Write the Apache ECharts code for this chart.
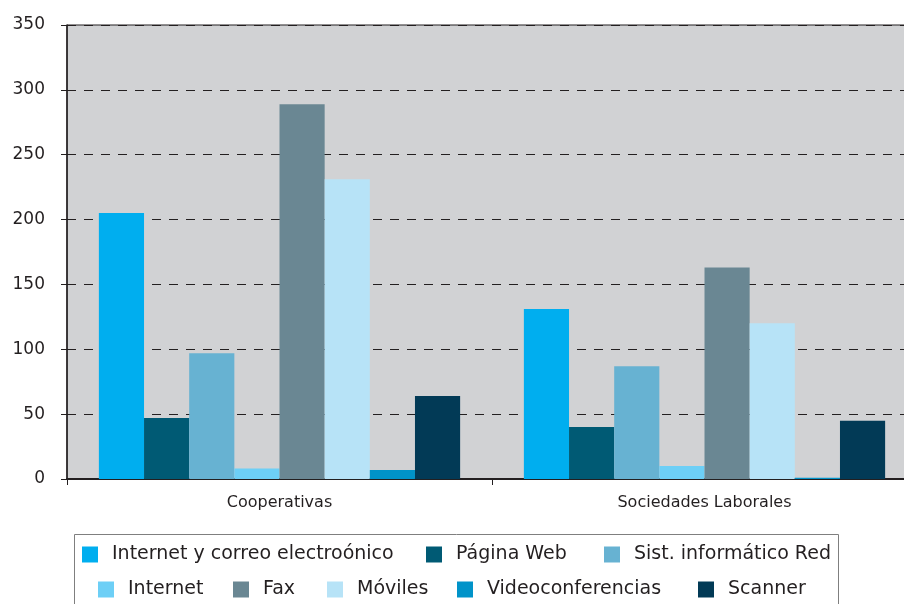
<!DOCTYPE html>
<html><head><meta charset="utf-8">
<script src="https://cdn.jsdelivr.net/npm/echarts@6/dist/echarts.min.js"></script>
<style>html,body{margin:0;padding:0;background:#fff}#c{width:904px;height:604px}</style>
</head><body><div id="c"></div>
<script>
const categories = ['Cooperativas', 'Sociedades Laborales'];
const seriesNames = ['Internet y correo electroónico', 'Página Web', 'Sist. informático Red', 'Internet', 'Fax', 'Móviles', 'Videoconferencias', 'Scanner'];
const internetCorreo = [205, 131];
const paginaWeb = [47, 40];
const sistInformatico = [97, 87];
const internet = [8, 10];
const fax = [289, 163];
const moviles = [231, 120];
const videoconferencias = [7, 1];
const scanner = [64, 45];
const yTicks = [0, 50, 100, 150, 200, 250, 300, 350];

const values = [internetCorreo, paginaWeb, sistInformatico, internet, fax, moviles, videoconferencias, scanner];
const colors = ['#00AEEF', '#005A74', '#67B2D2', '#6DCFF6', '#6A8793', '#B7E3F7', '#0093C9', '#023A56'];
const legendPos = [[82, 545], [426, 545], [604, 545], [98, 580], [233, 580], [327, 580], [457, 580], [698, 580]];
const font = 'DejaVu Sans';

const chart = echarts.init(document.getElementById('c'));
chart.setOption({
  animation: false,
  grid: {left: 67, top: 25, width: 850, height: 454, outerBoundsMode: 'none', containLabel: false,
    show: true, backgroundColor: '#D1D2D4', borderColor: '#231F20', borderWidth: 1},
  graphic: [{type: 'rect', left: 72, top: 532, shape: {width: 764, height: 90}, style: {fill: 'none', stroke: '#7f7f7f', lineWidth: 1}, z: -1}],
  legend: seriesNames.map((n, i) => ({
    data: [n], left: legendPos[i][0], top: legendPos[i][1], padding: 0,
    itemWidth: 16, itemHeight: 16, icon: 'rect',
    textStyle: {fontFamily: font, fontSize: 19, color: '#231F20', padding: [0, 0, 0, 9]}
  })),
  xAxis: {
    type: 'category', data: categories,
    axisLine: {lineStyle: {color: '#231F20', width: 2}},
    axisTick: {show: true, length: 6, lineStyle: {color: '#231F20'}},
    axisLabel: {fontFamily: font, fontSize: 16, color: '#231F20', margin: 16}
  },
  yAxis: {
    type: 'value', min: 0, max: 350, interval: 50,
    axisLine: {show: true, lineStyle: {color: '#231F20', width: 1.5}},
    axisTick: {show: true, length: 6, lineStyle: {color: '#231F20'}},
    axisLabel: {fontFamily: font, fontSize: 17, color: '#231F20', margin: 22,
      formatter: v => yTicks.includes(v) ? String(v) : ''},
    splitLine: {lineStyle: {color: '#231F20', type: [9, 8], width: 1}}
  },
  series: seriesNames.map((n, i) => ({
    name: n, type: 'bar', data: values[i], barGap: '0%', barCategoryGap: '15%',
    itemStyle: {color: colors[i]}
  }))
});
</script></body></html>
